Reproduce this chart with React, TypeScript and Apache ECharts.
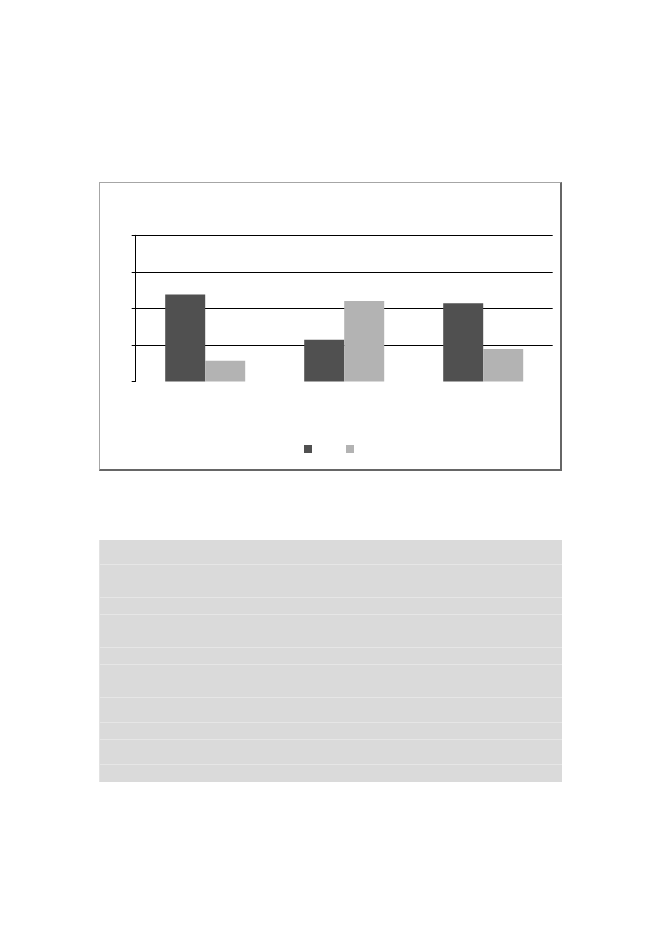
import React, { useEffect, useRef } from 'react';
import * as echarts from 'echarts';

// Chart values (axis 0..4, no visible labels)
const categories = ['A', 'B', 'C'];
const seriesNames = ['Series 1', 'Series 2'];
const darkValues = [2.38, 1.14, 2.14];
const lightValues = [0.57, 2.2, 0.89];

// Heights of the grey table rows below the chart
const tableRowHeights = [25, 33, 17, 33, 17, 33, 25, 17, 25, 17];

const BarChart: React.FC = () => {
  const chartRef = useRef<HTMLDivElement>(null);

  useEffect(() => {
    if (!chartRef.current) return;
    const chart = echarts.init(chartRef.current, undefined, { renderer: 'svg' });

    const option = {
      animation: false,
      backgroundColor: '#fff',
      grid: {
        left: 35.7,
        right: 6.3,
        top: 52.3,
        bottom: 86.5,
        containLabel: false
      },
      legend: {
        data: seriesNames,
        left: 204,
        top: 262,
        padding: 0,
        icon: 'rect',
        itemWidth: 8,
        itemHeight: 8,
        itemGap: 34,
        formatter: () => '',
        selectedMode: false
      },
      xAxis: {
        type: 'category',
        data: categories,
        axisLine: { show: false },
        axisTick: { show: false },
        axisLabel: { show: false },
        splitLine: { show: false }
      },
      yAxis: {
        type: 'value',
        min: 0,
        max: 4,
        interval: 1,
        axisLine: { show: true, lineStyle: { color: '#000', width: 1 } },
        axisTick: { show: true, length: 4, lineStyle: { color: '#000' } },
        axisLabel: { show: false },
        splitLine: {
          show: true,
          showMinLine: false,
          lineStyle: { color: '#000', width: 1 }
        }
      },
      series: [
        {
          name: seriesNames[0],
          type: 'bar',
          data: darkValues,
          barWidth: 40,
          barGap: '0%',
          itemStyle: { color: '#505050' }
        },
        {
          name: seriesNames[1],
          type: 'bar',
          data: lightValues,
          barWidth: 40,
          barGap: '0%',
          itemStyle: { color: '#b3b3b3' }
        }
      ]
    };

    chart.setOption(option);
    return () => {
      chart.dispose();
    };
  }, []);

  return (
    <div
      style={{
        position: 'absolute',
        left: 99,
        top: 182,
        width: 460,
        height: 286,
        borderTop: '1px solid #a6a6a6',
        borderLeft: '1px solid #a6a6a6',
        borderRight: '2px solid #666',
        borderBottom: '2px solid #666',
        background: '#fff'
      }}
    >
      <div ref={chartRef} style={{ width: 459, height: 285 }} />
    </div>
  );
};

const GreyTable: React.FC = () => (
  <div
    style={{
      position: 'absolute',
      left: 99,
      top: 540,
      width: 462,
      background: '#dadada',
      borderLeft: '1px solid #e2e2e2'
    }}
  >
    {tableRowHeights.map((h, i) => (
      <div
        key={i}
        style={{
          height: h - (i < tableRowHeights.length - 1 ? 1 : 0),
          borderBottom: i < tableRowHeights.length - 1 ? '1px solid #e6e6e6' : 'none'
        }}
      />
    ))}
  </div>
);

export default function App() {
  return (
    <div
      style={{
        position: 'absolute',
        left: 0,
        top: 0,
        width: 661,
        height: 933,
        background: '#fff'
      }}
    >
      <BarChart />
      <GreyTable />
    </div>
  );
}
